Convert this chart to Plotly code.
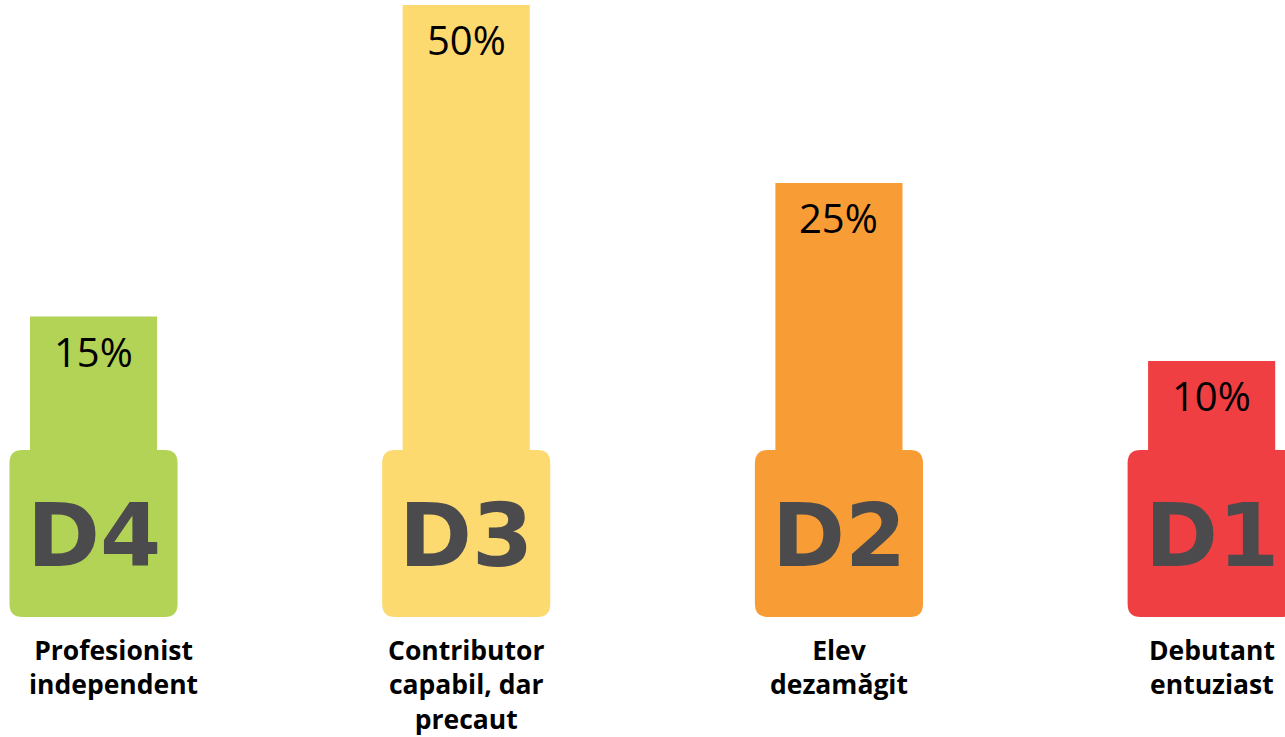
import plotly.graph_objects as go

# ---- data ----
levels = ["D4", "D3", "D2", "D1"]
pct_labels = ["15%", "50%", "25%", "10%"]
# bar heights as drawn in the reference (percent units)
bar_heights = [15, 50, 30, 10]
names = ["Profesionist<br>independent", "Contributor<br>capabil, dar<br>precaut",
         "Elev<br>dezamăgit", "Debutant<br>entuziast"]
colors = ["#b2d355", "#fdda70", "#f89c35", "#ef3f43"]

x = list(range(len(levels)))

# geometry / scale helpers
X_RANGE = [-0.2509, 3.1968]
Y_RANGE = [-32.25, 50.56]
W, H = 1285, 737
px_x = (X_RANGE[1] - X_RANGE[0]) / W   # data units per pixel
px_y = (Y_RANGE[1] - Y_RANGE[0]) / H
box_h = 18.76
box_w = 0.451


def rounded_rect(xc, w, y0, y1, r_px):
    x0, x1 = xc - w / 2, xc + w / 2
    rx, ry = r_px * px_x, r_px * px_y
    return (f"M {x0+rx},{y0} L {x1-rx},{y0} Q {x1},{y0} {x1},{y0+ry} "
            f"L {x1},{y1-ry} Q {x1},{y1} {x1-rx},{y1} L {x0+rx},{y1} "
            f"Q {x0},{y1} {x0},{y1-ry} L {x0},{y0+ry} Q {x0},{y0} {x0+rx},{y0} Z")


fig = go.Figure()

# value columns
fig.add_trace(go.Bar(x=x, y=bar_heights, base=[0] * 4, width=0.341,
                     marker=dict(color=colors, line=dict(width=0)),
                     showlegend=False))

shapes = []
for i in x:
    shapes.append(dict(type="path", xref="x", yref="y", layer="above",
                       path=rounded_rect(i, box_w, -box_h, 0, 13),
                       fillcolor=colors[i], line=dict(width=0)))

annotations = []
for i in x:
    annotations.append(dict(x=i, y=bar_heights[i], xref="x", yref="y", text=pct_labels[i],
                            showarrow=False, yanchor="middle", yshift=-35,
                            font=dict(family="Open Sans", size=40, color="#000000")))
    annotations.append(dict(x=i, y=-box_h / 2, xref="x", yref="y", text="<b>%s</b>" % levels[i],
                            showarrow=False, yanchor="middle", yshift=-2,
                            font=dict(family="DejaVu Sans", size=88, color="#4b4b4d")))
    annotations.append(dict(x=i, y=-20.25, xref="x", yref="y", text="<b>%s</b>" % names[i],
                            showarrow=False, yanchor="top", xshift=20 if i == 0 else 0,
                            align="center",
                            font=dict(family="Open Sans", size=26.5, color="#000000")))

fig.update_layout(
    width=W, height=H,
    margin=dict(l=0, r=0, t=0, b=0),
    paper_bgcolor="white", plot_bgcolor="white",
    barmode="overlay",
    xaxis=dict(range=X_RANGE, visible=False, fixedrange=True),
    yaxis=dict(range=Y_RANGE, visible=False, fixedrange=True),
    shapes=shapes,
    annotations=annotations,
)

fig.write_html("out.html", config={"displayModeBar": False},
               post_script="document.body.style.margin='0';document.body.style.overflow='hidden';")
